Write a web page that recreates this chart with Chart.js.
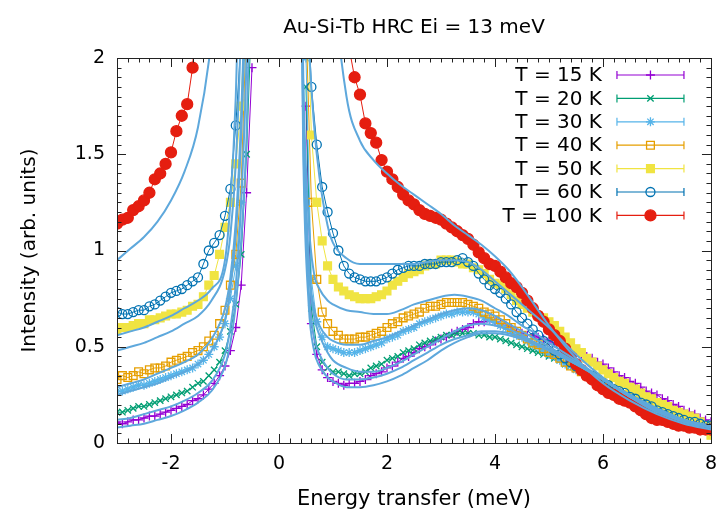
<!DOCTYPE html>
<html>
<head>
<meta charset="utf-8">
<script src="https://cdn.jsdelivr.net/npm/chart.js@4.4.1/dist/chart.umd.min.js"></script>
<style>
  html, body { margin: 0; padding: 0; background: #fff; }
  #wrap { width: 727px; height: 513px; }
</style>
</head>
<body>
<div id="wrap"><canvas id="chart" width="727" height="513"></canvas></div>
<script>
// energy grid of the measured points (meV), split around the elastic line
const negX = [-3.0, -2.9, -2.8, -2.7, -2.6, -2.5, -2.4, -2.3, -2.2, -2.1, -2.0, -1.9, -1.8,
    -1.7, -1.6, -1.5, -1.4, -1.3, -1.2, -1.1, -1.0, -0.9, -0.8, -0.7, -0.6, -0.5];
const posX = [0.5, 0.6, 0.7, 0.8, 0.9, 1.0, 1.1, 1.2, 1.3, 1.4,
    1.5, 1.6, 1.7, 1.8, 1.9, 2.0, 2.1, 2.2, 2.3, 2.4,
    2.5, 2.6, 2.7, 2.8, 2.9, 3.0, 3.1, 3.2, 3.3, 3.4,
    3.5, 3.6, 3.7, 3.8, 3.9, 4.0, 4.1, 4.2, 4.3, 4.4,
    4.5, 4.6, 4.7, 4.8, 4.9, 5.0, 5.1, 5.2, 5.3, 5.4,
    5.5, 5.6, 5.7, 5.8, 5.9, 6.0, 6.1, 6.2, 6.3, 6.4,
    6.5, 6.6, 6.7, 6.8, 6.9, 7.0, 7.1, 7.2, 7.3, 7.4,
    7.5, 7.6, 7.7, 7.8, 7.9, 8.0];

const t15Neg = [0.11, 0.10, 0.11, 0.12, 0.12, 0.13, 0.14, 0.14, 0.15, 0.16, 0.17, 0.18, 0.19,
    0.20, 0.22, 0.23, 0.25, 0.28, 0.31, 0.35, 0.40, 0.48, 0.60, 0.82, 1.30, 1.95];
const t15Pos = [1.75, 0.62, 0.46, 0.38, 0.34, 0.32, 0.31, 0.30, 0.31, 0.31,
    0.32, 0.33, 0.35, 0.36, 0.37, 0.39, 0.40, 0.42, 0.44, 0.45,
    0.47, 0.49, 0.50, 0.51, 0.53, 0.54, 0.55, 0.57, 0.58, 0.59,
    0.60, 0.62, 0.63, 0.63, 0.64, 0.63, 0.62, 0.61, 0.60, 0.58,
    0.57, 0.56, 0.56, 0.55, 0.54, 0.53, 0.52, 0.51, 0.50, 0.48,
    0.47, 0.46, 0.45, 0.44, 0.42, 0.41, 0.39, 0.37, 0.35, 0.34,
    0.32, 0.31, 0.29, 0.27, 0.26, 0.25, 0.23, 0.22, 0.20, 0.19,
    0.17, 0.16, 0.15, 0.13, 0.12, 0.11];

const t20Neg = [0.16, 0.16, 0.17, 0.18, 0.19, 0.19, 0.20, 0.21, 0.22, 0.23, 0.24, 0.25, 0.26,
    0.27, 0.29, 0.31, 0.32, 0.35, 0.38, 0.42, 0.48, 0.58, 0.72, 0.98, 1.50, 2.3];
const t20Pos = [1.85, 0.70, 0.50, 0.42, 0.39, 0.37, 0.37, 0.36, 0.35, 0.36,
    0.36, 0.37, 0.39, 0.40, 0.41, 0.43, 0.44, 0.45, 0.47, 0.48,
    0.49, 0.51, 0.52, 0.53, 0.54, 0.55, 0.56, 0.56, 0.57, 0.57,
    0.57, 0.57, 0.56, 0.56, 0.55, 0.55, 0.54, 0.53, 0.52, 0.51,
    0.50, 0.49, 0.48, 0.47, 0.46, 0.45, 0.44, 0.43, 0.41, 0.40,
    0.39, 0.37, 0.36, 0.35, 0.33, 0.32, 0.30, 0.29, 0.28, 0.26,
    0.25, 0.24, 0.22, 0.21, 0.20, 0.18, 0.17, 0.16, 0.15, 0.14,
    0.13, 0.12, 0.12, 0.11, 0.10, 0.10];

const t30Neg = [0.27, 0.27, 0.28, 0.29, 0.30, 0.30, 0.31, 0.32, 0.33, 0.34, 0.35, 0.36, 0.37,
    0.38, 0.39, 0.41, 0.43, 0.46, 0.50, 0.55, 0.62, 0.75, 0.92, 1.25, 2.0, 3.0];
const t30Pos = [2.0, 0.85, 0.63, 0.55, 0.50, 0.49, 0.48, 0.47, 0.47, 0.47,
    0.48, 0.49, 0.50, 0.51, 0.52, 0.54, 0.55, 0.56, 0.58, 0.59,
    0.60, 0.62, 0.63, 0.64, 0.65, 0.66, 0.67, 0.67, 0.68, 0.68,
    0.68, 0.68, 0.67, 0.65, 0.64, 0.63, 0.61, 0.60, 0.58, 0.56,
    0.55, 0.53, 0.51, 0.50, 0.48, 0.46, 0.45, 0.43, 0.41, 0.40,
    0.38, 0.37, 0.35, 0.34, 0.32, 0.31, 0.29, 0.28, 0.26, 0.25,
    0.24, 0.22, 0.21, 0.20, 0.18, 0.17, 0.16, 0.15, 0.14, 0.13,
    0.12, 0.11, 0.11, 0.10, 0.09, 0.09];

const t40Neg = [0.33, 0.35, 0.34, 0.35, 0.37, 0.36, 0.38, 0.39, 0.39, 0.40, 0.42, 0.43, 0.44,
    0.45, 0.47, 0.48, 0.50, 0.53, 0.56, 0.62, 0.69, 0.82, 0.98, 1.35, 2.2, 3.2];
const t40Pos = [2.2, 1.25, 0.85, 0.68, 0.62, 0.58, 0.56, 0.54, 0.54, 0.54,
    0.55, 0.55, 0.56, 0.57, 0.58, 0.60, 0.62, 0.63, 0.65, 0.66,
    0.67, 0.68, 0.70, 0.71, 0.71, 0.72, 0.73, 0.73, 0.73, 0.73,
    0.72, 0.71, 0.70, 0.68, 0.67, 0.66, 0.64, 0.62, 0.60, 0.58,
    0.56, 0.54, 0.52, 0.51, 0.49, 0.47, 0.46, 0.44, 0.42, 0.40,
    0.39, 0.37, 0.35, 0.34, 0.33, 0.31, 0.29, 0.28, 0.26, 0.25,
    0.24, 0.22, 0.21, 0.20, 0.18, 0.17, 0.16, 0.15, 0.14, 0.13,
    0.12, 0.11, 0.11, 0.10, 0.09, 0.09];

const t50Neg = [0.59, 0.60, 0.60, 0.61, 0.62, 0.62, 0.64, 0.64, 0.65, 0.66, 0.67, 0.67, 0.68,
    0.69, 0.71, 0.72, 0.76, 0.82, 0.87, 0.98, 1.12, 1.25, 1.45, 1.75, 2.5, 3.5];
const t50Pos = [2.5, 1.6, 1.25, 1.05, 0.92, 0.85, 0.81, 0.79, 0.77, 0.76,
    0.75, 0.75, 0.75, 0.76, 0.77, 0.79, 0.82, 0.84, 0.86, 0.88,
    0.89, 0.90, 0.92, 0.93, 0.93, 0.95, 0.95, 0.95, 0.94, 0.93,
    0.93, 0.91, 0.90, 0.88, 0.85, 0.83, 0.82, 0.80, 0.77, 0.74,
    0.72, 0.70, 0.68, 0.66, 0.65, 0.63, 0.61, 0.58, 0.55, 0.52,
    0.49, 0.47, 0.44, 0.42, 0.40, 0.38, 0.36, 0.34, 0.32, 0.31,
    0.29, 0.28, 0.26, 0.24, 0.23, 0.21, 0.20, 0.19, 0.17, 0.16,
    0.15, 0.14, 0.13, 0.11, 0.09, 0.04];

const t60Neg = [0.68, 0.67, 0.67, 0.68, 0.69, 0.69, 0.71, 0.72, 0.74, 0.76, 0.78, 0.79, 0.80,
    0.82, 0.84, 0.86, 0.93, 1.00, 1.04, 1.08, 1.18, 1.32, 1.65, 2.1, 2.8, 4.0];
const t60Pos = [2.5, 1.85, 1.55, 1.33, 1.20, 1.09, 1.00, 0.92, 0.88, 0.86,
    0.85, 0.84, 0.84, 0.84, 0.85, 0.86, 0.88, 0.90, 0.91, 0.92,
    0.92, 0.92, 0.93, 0.93, 0.93, 0.94, 0.94, 0.94, 0.95, 0.96,
    0.94, 0.92, 0.88, 0.85, 0.82, 0.80, 0.78, 0.75, 0.72, 0.68,
    0.65, 0.62, 0.59, 0.56, 0.53, 0.51, 0.48, 0.46, 0.44, 0.42,
    0.40, 0.38, 0.36, 0.35, 0.33, 0.31, 0.30, 0.28, 0.27, 0.26,
    0.24, 0.23, 0.21, 0.20, 0.19, 0.17, 0.16, 0.15, 0.14, 0.13,
    0.12, 0.11, 0.11, 0.10, 0.09, 0.09];

const t100Neg = [1.14, 1.16, 1.17, 1.21, 1.23, 1.26, 1.30, 1.37, 1.40, 1.45, 1.51, 1.62, 1.70,
    1.76, 1.95, 2.4, null, null, null, null, null, null, null, null, null, null];
const t100Pos = [null, null, null, null, null, null, null, 2.6, 2.05, 1.90,
    1.81, 1.66, 1.61, 1.56, 1.47, 1.41, 1.37, 1.33, 1.29, 1.26,
    1.24, 1.21, 1.19, 1.18, 1.17, 1.16, 1.14, 1.12, 1.10, 1.08,
    1.06, 1.03, 0.99, 0.96, 0.93, 0.92, 0.89, 0.86, 0.83, 0.81,
    0.78, 0.74, 0.70, 0.66, 0.63, 0.59, 0.56, 0.53, 0.49, 0.45,
    0.41, 0.38, 0.35, 0.33, 0.30, 0.28, 0.26, 0.25, 0.23, 0.22,
    0.21, 0.19, 0.17, 0.15, 0.13, 0.12, 0.12, 0.11, 0.10, 0.09,
    0.09, 0.08, 0.08, 0.07, 0.07, 0.07];

// model curves (one per temperature)
const fitNegX = [-3, -2.75, -2.5, -2.25, -2.0, -1.75, -1.5, -1.25, -1.0, -0.9, -0.8, -0.7, -0.6, -0.5];
const fitPosX = [0.35, 0.45, 0.55, 0.65, 0.75, 0.9, 1.0, 1.25, 1.5, 1.75, 2.0, 2.25, 2.5, 2.75, 3.0,
    3.25, 3.5, 3.75, 4.0, 4.25, 4.5, 4.75, 5.0, 5.5, 6.0, 6.5, 7.0, 7.5, 8.0];

const fitNeg = [
    [0.08, 0.09, 0.10, 0.12, 0.14, 0.17, 0.21, 0.27, 0.40, 0.52, 0.72, 1.05, 1.6, 2.8],
    [0.12, 0.13, 0.15, 0.17, 0.19, 0.22, 0.26, 0.32, 0.46, 0.60, 0.82, 1.25, 2.0, 3.5],
    [0.25, 0.27, 0.29, 0.31, 0.34, 0.37, 0.41, 0.48, 0.64, 0.80, 1.08, 1.6, 2.5, 4.2],
    [0.29, 0.31, 0.33, 0.36, 0.39, 0.42, 0.46, 0.54, 0.70, 0.86, 1.15, 1.7, 2.7, 4.5],
    [0.48, 0.50, 0.52, 0.55, 0.58, 0.62, 0.66, 0.74, 0.90, 1.08, 1.45, 2.2, 3.5, 5],
    [0.56, 0.58, 0.60, 0.63, 0.66, 0.70, 0.74, 0.80, 0.95, 1.25, 1.8, 2.8, 4, 6],
    [0.95, 1.01, 1.07, 1.15, 1.26, 1.41, 1.64, 2.1, 3.0, 3.6, 4.3, 5.2, 6.5, 8]
];
const fitPos = [
    [4, 1.5, 0.72, 0.48, 0.40, 0.34, 0.32, 0.29, 0.29, 0.30, 0.32, 0.35, 0.39, 0.43, 0.48,
        0.52, 0.55, 0.57, 0.57, 0.56, 0.54, 0.51, 0.48, 0.41, 0.33, 0.25, 0.18, 0.12, 0.09],
    [4, 1.6, 0.80, 0.55, 0.46, 0.39, 0.36, 0.33, 0.33, 0.34, 0.36, 0.39, 0.43, 0.47, 0.51,
        0.54, 0.56, 0.58, 0.58, 0.57, 0.55, 0.52, 0.49, 0.41, 0.33, 0.25, 0.18, 0.12, 0.09],
    [4, 1.7, 0.92, 0.66, 0.56, 0.47, 0.43, 0.39, 0.37, 0.37, 0.39, 0.42, 0.46, 0.50, 0.54,
        0.58, 0.61, 0.62, 0.61, 0.59, 0.56, 0.52, 0.48, 0.41, 0.33, 0.24, 0.17, 0.12, 0.08],
    [4, 1.8, 0.95, 0.70, 0.61, 0.55, 0.53, 0.51, 0.51, 0.53, 0.55, 0.58, 0.61, 0.64, 0.67,
        0.69, 0.70, 0.69, 0.66, 0.62, 0.58, 0.54, 0.50, 0.42, 0.33, 0.24, 0.17, 0.11, 0.08],
    [4, 1.9, 1.15, 0.88, 0.80, 0.74, 0.72, 0.69, 0.68, 0.67, 0.67, 0.69, 0.72, 0.74, 0.76,
        0.77, 0.76, 0.74, 0.70, 0.66, 0.61, 0.57, 0.52, 0.43, 0.33, 0.24, 0.17, 0.11, 0.08],
    [6, 3.0, 2.1, 1.65, 1.38, 1.13, 1.04, 0.96, 0.93, 0.93, 0.93, 0.93, 0.93, 0.94, 0.95,
        0.95, 0.94, 0.90, 0.84, 0.78, 0.72, 0.66, 0.60, 0.46, 0.34, 0.24, 0.16, 0.11, 0.08],
    [9, 8, 7, 5.5, 4.2, 3.0, 2.45, 1.80, 1.57, 1.47, 1.40, 1.34, 1.29, 1.24, 1.19,
        1.13, 1.08, 1.03, 0.97, 0.90, 0.81, 0.71, 0.61, 0.44, 0.31, 0.22, 0.15, 0.10, 0.07]
];

const seriesLabels = ['T = 15 K', 'T = 20 K', 'T = 30 K', 'T = 40 K', 'T = 50 K', 'T = 60 K', 'T = 100 K'];
const seriesNeg = [t15Neg, t20Neg, t30Neg, t40Neg, t50Neg, t60Neg, t100Neg];
const seriesPos = [t15Pos, t20Pos, t30Pos, t40Pos, t50Pos, t60Pos, t100Pos];

const xTicks = [-2, 0, 2, 4, 6, 8];
const yTicks = [0, 0.5, 1, 1.5, 2];

const titleText = 'Au-Si-Tb HRC Ei = 13 meV';
const xTitle = 'Energy transfer (meV)';
const yTitle = 'Intensity (arb. units)';

// styles
const FONT = '"DejaVu Sans", sans-serif';
const seriesColors = ['#9400d3', '#009e73', '#56b4e9', '#e69f00', '#f0e442', '#0072b2', '#e51e10'];
const seriesMarkers = ['cross', 'crossRot', 'star', 'rect', 'rect', 'circle', 'circle'];
const seriesFilled = [false, false, false, false, true, false, true];
const seriesRadius = [4.5, 4.5, 4.5, 5.5, 5.5, 4.5, 5.5];
const fitColor = '#5ea8dc';

const joinSides = function (xn, yn, xp, yp) {
    const left = xn.map((x, i) => ({ x: x, y: yn[i] }));
    const right = xp.map((x, i) => ({ x: x, y: yp[i] }));
    return left.concat([{ x: 0, y: null }], right);
};

const datasets = [];
fitNeg.forEach((curve, i) => {
    datasets.push({
        label: 'fit ' + i,
        data: joinSides(fitNegX, curve, fitPosX, fitPos[i]),
        borderColor: fitColor,
        borderWidth: 2,
        pointRadius: 0,
        cubicInterpolationMode: 'monotone',
        spanGaps: false,
        fill: false,
        order: 0
    });
});
seriesLabels.forEach((label, i) => {
    const color = seriesColors[i];
    datasets.push({
        label: label,
        data: joinSides(negX, seriesNeg[i], posX, seriesPos[i]),
        borderColor: color,
        borderWidth: 1,
        pointStyle: seriesMarkers[i],
        pointRadius: seriesRadius[i],
        pointBorderWidth: 1.3,
        pointBorderColor: color,
        pointBackgroundColor: seriesFilled[i] ? color : 'rgba(255,255,255,0)',
        tension: 0,
        spanGaps: false,
        fill: false,
        order: 7 - i
    });
});

const gnuplotDecor = {
    id: 'gnuplotDecor',
    afterDraw(chart) {
        const ctx = chart.ctx;
        const a = chart.chartArea;
        const xs = chart.scales.x;
        const ys = chart.scales.y;
        const cx = (a.left + a.right) / 2;
        ctx.save();

        // legend, gnuplot style
        ctx.font = '20px ' + FONT;
        ctx.textAlign = 'right';
        ctx.textBaseline = 'middle';
        seriesLabels.forEach((label, i) => {
            const yy = a.top + 17 + i * 23.4;
            const x0 = a.right - 94, x1 = a.right - 27, xm = (x0 + x1) / 2;
            ctx.fillStyle = '#000';
            ctx.fillText(label, a.right - 109, yy + 1);
            ctx.strokeStyle = seriesColors[i];
            ctx.lineWidth = 1.2;
            ctx.beginPath();
            ctx.moveTo(x0, yy); ctx.lineTo(x1, yy);
            ctx.moveTo(x0, yy - 4); ctx.lineTo(x0, yy + 4);
            ctx.moveTo(x1, yy - 4); ctx.lineTo(x1, yy + 4);
            ctx.stroke();
            ctx.fillStyle = seriesFilled[i] ? seriesColors[i] : 'rgba(255,255,255,0)';
            ctx.lineWidth = 1.3;
            Chart.helpers.drawPoint(ctx, { pointStyle: seriesMarkers[i], radius: seriesRadius[i], rotation: 0, borderWidth: 1.3 }, xm, yy);
        });

        // border with inward ticks on all four sides
        ctx.strokeStyle = '#222';
        ctx.lineWidth = 1;
        ctx.beginPath();
        for (let k = -15; k <= 40; k++) {
            const px = Math.round(xs.getPixelForValue(k * 0.2)) + 0.5;
            const len = k % 10 === 0 ? 9 : 4.5;
            ctx.moveTo(px, a.bottom); ctx.lineTo(px, a.bottom - len);
            ctx.moveTo(px, a.top); ctx.lineTo(px, a.top + len);
        }
        for (let k = 0; k <= 40; k++) {
            const py = Math.round(ys.getPixelForValue(k * 0.05)) + 0.5;
            const len = k % 10 === 0 ? 9 : 4.5;
            ctx.moveTo(a.left, py); ctx.lineTo(a.left + len, py);
            ctx.moveTo(a.right, py); ctx.lineTo(a.right - len, py);
        }
        ctx.stroke();
        ctx.strokeRect(Math.round(a.left) + 0.5, Math.round(a.top) + 0.5,
            Math.round(a.right - a.left), Math.round(a.bottom - a.top));

        // titles
        ctx.fillStyle = '#000';
        ctx.textAlign = 'center';
        ctx.textBaseline = 'middle';
        ctx.font = '20px ' + FONT;
        ctx.fillText(titleText, cx, 28);
        ctx.font = '21px ' + FONT;
        ctx.fillText(xTitle, cx, 500);
        ctx.font = '20px ' + FONT;
        ctx.translate(30, (a.top + a.bottom) / 2);
        ctx.rotate(-Math.PI / 2);
        ctx.fillText(yTitle, 0, 0);
        ctx.restore();
    }
};

new Chart('chart', {
    type: 'line',
    data: { datasets: datasets },
    options: {
        responsive: false,
        animation: false,
        devicePixelRatio: 1,
        events: [],
        layout: { padding: { top: 58, right: 10, left: 0, bottom: 0 } },
        plugins: { legend: { display: false }, tooltip: { enabled: false }, title: { display: false } },
        scales: {
            x: {
                type: 'linear',
                min: -3,
                max: 8,
                afterBuildTicks: (axis) => { axis.ticks = xTicks.map(v => ({ value: v })); },
                afterFit: (axis) => { axis.height = 70; },
                grid: { display: false, drawTicks: false },
                border: { display: false },
                ticks: { font: { family: FONT, size: 19 }, color: '#000', padding: 10, maxRotation: 0, autoSkip: false, callback: v => String(v) }
            },
            y: {
                type: 'linear',
                min: 0,
                max: 2,
                afterBuildTicks: (axis) => { axis.ticks = yTicks.map(v => ({ value: v })); },
                afterFit: (axis) => { axis.width = 117; },
                grid: { display: false, drawTicks: false },
                border: { display: false },
                ticks: { font: { family: FONT, size: 19 }, color: '#000', padding: 12, autoSkip: false, callback: v => String(v) }
            }
        }
    },
    plugins: [gnuplotDecor]
});
</script>
</body>
</html>
